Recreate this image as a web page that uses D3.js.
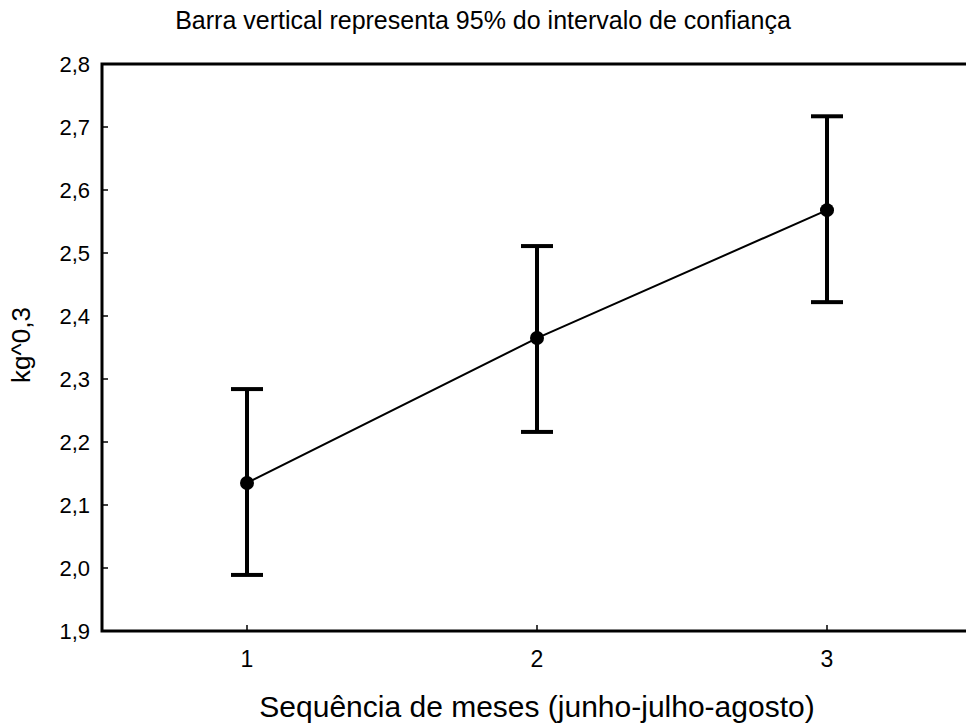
<!DOCTYPE html>
<html>
<head>
<meta charset="utf-8">
<script src="https://cdn.jsdelivr.net/npm/d3@7"></script>
<style>
  body { margin: 0; background: #fff; }
  svg { font-family: "Liberation Sans", Arial, sans-serif; }
</style>
</head>
<body>
<div id="chart"></div>
<script>
// months in sequence and the mean with its 95% CI
var months = [1, 2, 3];
var means = [2.135, 2.365, 2.568];
var lower = [1.989, 2.216, 2.422];
var upper = [2.284, 2.511, 2.717];
var yTicks = [1.9, 2.0, 2.1, 2.2, 2.3, 2.4, 2.5, 2.6, 2.7, 2.8];

(function () {
    var width = 966, height = 726,
        plotLeft = 102, plotTop = 64, plotBottom = 631, plotRight = 972,
        capHalf = 16;

    var svg = d3.select("#chart").append("svg")
        .attr("width", width)
        .attr("height", height);

    var x = d3.scaleLinear().domain([0.5, 3.5]).range([plotLeft, plotRight]);
    var y = d3.scaleLinear().domain([1.9, 2.8]).range([plotBottom, plotTop]);

    var fmt = function (d) { return d.toFixed(1).replace(".", ","); };

    // frame
    svg.append("rect")
        .attr("x", plotLeft).attr("y", plotTop)
        .attr("width", plotRight - plotLeft).attr("height", plotBottom - plotTop)
        .style("fill", "none").style("stroke", "#000").style("stroke-width", 3);

    // y ticks (inside)
    var yAxis = svg.append("g");
    yAxis.selectAll("line").data(yTicks).enter().append("line")
        .attr("x1", plotLeft).attr("x2", plotLeft + 6)
        .attr("y1", function (d) { return y(d); })
        .attr("y2", function (d) { return y(d); })
        .style("stroke", "#000").style("stroke-width", 1.5);
    yAxis.selectAll("text").data(yTicks).enter().append("text")
        .attr("x", plotLeft - 12)
        .attr("y", function (d) { return y(d); })
        .attr("dy", "0.35em")
        .attr("text-anchor", "end")
        .style("font-size", "22px")
        .text(fmt);

    // x ticks (inside)
    var xAxis = svg.append("g");
    xAxis.selectAll("line").data(months).enter().append("line")
        .attr("x1", function (d) { return x(d); })
        .attr("x2", function (d) { return x(d); })
        .attr("y1", plotBottom).attr("y2", plotBottom - 6)
        .style("stroke", "#000").style("stroke-width", 1.5);
    xAxis.selectAll("text").data(months).enter().append("text")
        .attr("x", function (d) { return x(d); })
        .attr("y", 667)
        .attr("text-anchor", "middle")
        .style("font-size", "23px")
        .text(function (d) { return d; });

    // connecting line
    var line = d3.line()
        .x(function (d, i) { return x(months[i]); })
        .y(function (d) { return y(d); });

    svg.append("path")
        .datum(means)
        .attr("d", line)
        .style("fill", "none").style("stroke", "#000").style("stroke-width", 2);

    // error bars
    var bars = svg.selectAll(".bar").data(months).enter().append("g").attr("class", "bar");
    bars.append("line")
        .attr("x1", function (d) { return x(d); })
        .attr("x2", function (d) { return x(d); })
        .attr("y1", function (d, i) { return y(lower[i]); })
        .attr("y2", function (d, i) { return y(upper[i]); });
    bars.append("line")
        .attr("x1", function (d) { return x(d) - capHalf; })
        .attr("x2", function (d) { return x(d) + capHalf; })
        .attr("y1", function (d, i) { return y(upper[i]); })
        .attr("y2", function (d, i) { return y(upper[i]); });
    bars.append("line")
        .attr("x1", function (d) { return x(d) - capHalf; })
        .attr("x2", function (d) { return x(d) + capHalf; })
        .attr("y1", function (d, i) { return y(lower[i]); })
        .attr("y2", function (d, i) { return y(lower[i]); });
    bars.selectAll("line").style("stroke", "#000").style("stroke-width", 4);

    svg.selectAll(".dot").data(means).enter().append("circle")
        .attr("class", "dot")
        .attr("cx", function (d, i) { return x(months[i]); })
        .attr("cy", function (d) { return y(d); })
        .attr("r", 7)
        .style("fill", "#000");

    // titles
    svg.append("text")
        .attr("x", 483).attr("y", 29)
        .attr("text-anchor", "middle")
        .style("font-size", "25px")
        .text("Barra vertical representa 95% do intervalo de confiança");

    svg.append("text")
        .attr("x", (plotLeft + plotRight) / 2).attr("y", 717)
        .attr("text-anchor", "middle")
        .style("font-size", "30px")
        .text("Sequência de meses (junho-julho-agosto)");

    svg.append("text")
        .attr("transform", "translate(30,345) rotate(-90)")
        .attr("text-anchor", "middle")
        .style("font-size", "26px")
        .text("kg^0,3");
})();
</script>
</body>
</html>
